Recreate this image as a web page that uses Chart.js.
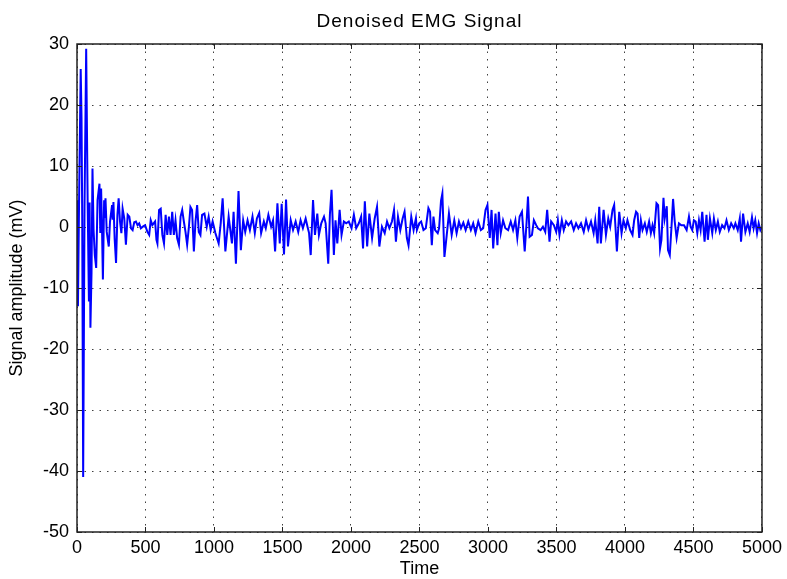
<!DOCTYPE html>
<html>
<head>
<meta charset="utf-8">
<title>Denoised EMG Signal</title>
<script src="https://cdn.jsdelivr.net/npm/chart.js@4.4.1/dist/chart.umd.min.js"></script>
<style>
  html, body { margin: 0; padding: 0; background: #fff; }
  #wrap { width: 787px; height: 579px; }
</style>
</head>
<body>
<div id="wrap"><canvas id="emg"></canvas></div>
<script>
// ---- data (turning points of the trace) ----
const sampleTime = [
  // 0 - 913
  0, 7, 15, 27, 33, 38, 45, 55, 67, 78,
  87, 92, 98, 106, 113, 121, 130, 140, 150, 164,
  170, 176, 183, 189, 198, 203, 208, 217, 232, 241,
  256, 261, 266, 275, 285, 295, 304, 314, 324, 333,
  345, 357, 370, 382, 394, 406, 418, 430, 442, 454,
  466, 483, 497, 514, 527, 538, 550, 570, 580, 587,
  599, 611, 623, 635, 647, 659, 671, 683, 695, 707,
  719, 731, 744, 756, 768, 780, 792, 804, 816, 828,
  840, 853, 865, 877, 889, 901, 913,
  // 930 - 1683
  930, 947, 961, 976, 990, 1010, 1034, 1049, 1063, 1083,
  1107, 1131, 1143, 1160, 1179, 1196, 1213, 1228, 1245, 1262,
  1281, 1298, 1313, 1330, 1344, 1364, 1378, 1397, 1417, 1431,
  1446, 1463, 1480, 1494, 1511, 1526, 1540, 1560, 1577, 1596,
  1615, 1632, 1649, 1669, 1683,
  // 1694 - 2474
  1694, 1706, 1723, 1737, 1754, 1766, 1783, 1803, 1815, 1834,
  1846, 1858, 1875, 1887, 1900, 1917, 1931, 1948, 1965, 1984,
  2004, 2021, 2038, 2057, 2074, 2088, 2101, 2118, 2134, 2154,
  2173, 2190, 2207, 2226, 2246, 2263, 2280, 2299, 2314, 2328,
  2343, 2360, 2377, 2391, 2408, 2420, 2440, 2457, 2474,
  // 2481 - 3292
  2481, 2498, 2512, 2529, 2546, 2565, 2577, 2590, 2602, 2614,
  2633, 2643, 2657, 2667, 2682, 2699, 2715, 2735, 2754, 2771,
  2788, 2803, 2820, 2837, 2856, 2875, 2892, 2909, 2929, 2948,
  2965, 2982, 2996, 3013, 3026, 3038, 3055, 3069, 3079, 3093,
  3110, 3127, 3147, 3166, 3183, 3200, 3214, 3231, 3248, 3268,
  3282, 3292,
  // 3304 - 4081
  3304, 3321, 3335, 3352, 3364, 3384, 3401, 3418, 3432, 3449,
  3461, 3481, 3498, 3510, 3522, 3539, 3553, 3570, 3587, 3607,
  3626, 3643, 3660, 3679, 3699, 3716, 3733, 3752, 3771, 3783,
  3800, 3812, 3824, 3844, 3861, 3878, 3892, 3909, 3921, 3941,
  3958, 3975, 3989, 4006, 4018, 4038, 4055, 4067, 4081,
  // 4092 - 5000
  4092, 4104, 4116, 4128, 4145, 4159, 4176, 4189, 4201, 4213,
  4230, 4242, 4256, 4266, 4281, 4290, 4305, 4314, 4327, 4341,
  4351, 4363, 4377, 4394, 4411, 4431, 4450, 4467, 4479, 4491,
  4503, 4516, 4528, 4540, 4552, 4564, 4581, 4595, 4605, 4620,
  4637, 4649, 4663, 4678, 4692, 4709, 4726, 4741, 4758, 4775,
  4794, 4806, 4823, 4838, 4847, 4862, 4879, 4896, 4910, 4927,
  4939, 4951, 4964, 4976, 4988, 5000
];

const amplitude = [
  // 0 - 913
  4.4, -13, 4, 25.9, 18, 2, -41, 3.3, 29.2, 3.6,
  -12.2, 4, -16.5, -7.5, 9.6, -0.5, -4.6, -6.7, 4.4, 7.1,
  -1, 6.3, -0.8, -8.6, 4.4, 1.5, 4.7, -0.8, -3.2, 0.9,
  3.6, 1.2, 4.1, -2, -5.9, 2, 4.7, 0.9, -1, 3,
  1.4, -2.9, 2, 1.7, -0.2, -0.5, 0.8, 0.9, 0.3, 0.6,
  -0.2, 0.1, 0.3, -0.8, -1.3, 1.1, 0.3, 0.9, -2.1, -2.7,
  2.8, 3.0, -1.3, -2.7, 2, -1.3, 1.7, -1.3, 2.5, -1.3,
  1.1, -1.8, -2.9, 1.7, 2.8, 0.9, -0.8, -2.9, -0.2, 3.3,
  2.8, -4, 0.9, 3.6, -0.8, -1.3, 2,
  // 930 - 1683
  2.2, 0.05, 1.7, -0.5, 0.9, -1.0, -2.7, 0.6, 4.7, -4.0,
  1.7, -2.7, 2.5, -6.0, 5.9, -3.8, 1.1, -0.8, 1.1, -0.5,
  1.7, -1.0, 1.4, 2.3, -1.0, 0.9, -0.2, 2.0, 0.05, 1.1,
  -4.0, 3.9, -2.7, 3.8, -4.5, 4.5, -3.2, 1.1, -0.5, 0.9,
  -0.8, 1.1, -0.2, 1.4, 0,
  // 1694 - 2474
  -1.0, -4.6, 4.4, -1.3, 2.2, -1.3, 0.6, 1.7, 0.6, -6.0,
  2.0, 6.1, -4.6, 1.1, -2.7, 2.8, -1.3, 0.9, 0.6, 0.9,
  -0.2, 2.0, -0.2, 0.6, 1.7, -3.5, 4.2, -3.2, 2.2, -1.8,
  1.4, 3.3, -3.2, 0.05, -1.0, 0.9, -0.2, 0.9, 2.8, -2.4,
  1.7, -0.5, 1.4, 2.5, -1.8, -3.0, 1.7, -0.5, 1.4,
  // 2481 - 3292
  -0.5, 0.6, 0.9, -0.5, -0.2, 3.1, 2.5, -3.0, 1.7, -0.5,
  -1.0, -0.2, 4.3, 5.5, -4.9, -1.3, 2.2, -1.3, 1.1, -1.0,
  0.9, -0.2, 0.7, -0.5, 0.9, -0.5, 0.6, -1.0, 0.9, -0.5,
  -0.2, 2.8, 3.6, -1.8, 2.8, -3.5, 2.2, -3.0, 2.5, -1.0,
  1.1, -0.2, -0.5, 0.9, -0.5, 1.1, -1.8, 1.7, 2.5, -4.0,
  0.9, 5.0,
  // 3304 - 4081
  -1.6, -1.3, 1.1, 0.3, -0.2, -0.5, 0.05, -0.8, 2.8, -2.4,
  0.9, 0.3, -0.8, 1.1, -1.3, 1.1, -0.5, 0.9, 0.3, 0.9,
  -0.5, 0.6, -0.2, 0.6, -0.8, 1.1, -0.4, 0.9, -1.0, 1.1,
  -2.7, 3.3, -2.7, 2.8, -1.3, 1.4, 0.05, 2.8, 3.6, -4.0,
  2.5, -1.0, 1.1, -0.2, 1.1, -0.5, -1.3, 1.1, 2.5,
  // 4092 - 5000
  2.2, -1.8, 1.1, -0.5, 0.6, -0.8, 0.9, -1.0, 0.3, -1.0,
  3.9, 3.6, -3.5, -2.1, 4.8, 1.4, 3.4, -3.8, -4.6, 0.6,
  4.6, 0.9, -1.8, 0.6, 0.3, 0.3, -0.5, 1.7, 0.05, -0.5,
  1.1, 0.9, -1.0, 1.1, -0.5, 2.5, -2.4, 2.0, -2.1, 1.4,
  -1.0, 1.4, -0.5, 0.9, -0.8, 0.3, -0.2, 1.1, -0.5, 0.6,
  -0.2, 0.6, -0.5, 1.4, -2.4, 2.2, -0.8, 0.6, -0.8, 1.6,
  -0.2, 1.1, -1.0, 0.6, -0.5, 0.05
];

const xTickValues = [0, 500, 1000, 1500, 2000, 2500, 3000, 3500, 4000, 4500, 5000];
const yTickValues = [-50, -40, -30, -20, -10, 0, 10, 20, 30];
const titleText = 'Denoised EMG Signal';

// ---- look ----
const FONT = "'Liberation Sans', Arial, Helvetica, sans-serif";
const BLUE = '#0000ff';
const GRID = 'rgba(0,0,0,0.75)';

Chart.defaults.font.family = FONT;
Chart.defaults.font.size = 18;
Chart.defaults.color = '#000';

// box round the axes, inward tick marks and the title centred over the axes (MATLAB style)
const axesBox = {
  id: 'axesBox',
  afterDatasetsDraw(chart) {
    const { ctx, chartArea: a, scales: { x, y } } = chart;
    const tl = 5;
    ctx.save();
    ctx.strokeStyle = '#222';
    ctx.lineWidth = 1;
    ctx.beginPath();
    xTickValues.forEach(v => {
      const px = Math.round(x.getPixelForValue(v)) + 0.5;
      ctx.moveTo(px, a.bottom); ctx.lineTo(px, a.bottom - tl);
      ctx.moveTo(px, a.top); ctx.lineTo(px, a.top + tl);
    });
    yTickValues.forEach(v => {
      const py = Math.round(y.getPixelForValue(v)) + 0.5;
      ctx.moveTo(a.left, py); ctx.lineTo(a.left + tl, py);
      ctx.moveTo(a.right, py); ctx.lineTo(a.right - tl, py);
    });
    ctx.stroke();
    ctx.lineWidth = 1.5;
    ctx.strokeRect(a.left, a.top, a.right - a.left, a.bottom - a.top);

    ctx.font = '19px ' + FONT;
    if ('letterSpacing' in ctx) ctx.letterSpacing = '1px';
    ctx.fillStyle = '#000';
    ctx.textAlign = 'center';
    ctx.textBaseline = 'middle';
    ctx.fillText(titleText, (a.left + a.right) / 2, 22);
    ctx.restore();
  }
};

const points = sampleTime.map((t, i) => ({ x: t, y: amplitude[i] }));

new Chart(document.getElementById('emg'), {
  type: 'line',
  data: {
    datasets: [{
      data: points,
      borderColor: BLUE,
      borderWidth: 2,
      pointRadius: 0,
      tension: 0,
      fill: false
    }]
  },
  options: {
    responsive: true,
    maintainAspectRatio: false,
    animation: false,
    layout: { padding: { top: 44, right: 22, bottom: 0, left: 0 } },
    plugins: {
      legend: { display: false },
      tooltip: { enabled: false },
      title: { display: false }
    },
    scales: {
      x: {
        type: 'linear',
        min: 0, max: 5000,
        afterBuildTicks: s => { s.ticks = xTickValues.map(v => ({ value: v })); },
        afterFit: s => { s.height = 47; },
        grid: { color: GRID, lineWidth: 1, drawTicks: false },
        border: { display: false, dash: [1.5, 6] },
        ticks: { padding: 5, maxRotation: 0, autoSkip: false, color: '#000', callback: v => String(v) },
        title: {
          display: true, text: 'Time', color: '#000',
          font: { size: 18, lineHeight: 1.1 },
          padding: { top: 0, bottom: 0 }
        }
      },
      y: {
        min: -50, max: 30,
        afterBuildTicks: s => { s.ticks = yTickValues.map(v => ({ value: v })); },
        afterFit: s => { s.width = 77; },
        grid: { color: GRID, lineWidth: 1, drawTicks: false },
        border: { display: false, dash: [1.5, 6] },
        ticks: { padding: 8, color: '#000', callback: v => String(v) },
        title: {
          display: true, text: 'Signal amplitude (mV)', color: '#000',
          font: { size: 18 },
          padding: { top: 6, bottom: 0 }
        }
      }
    }
  },
  plugins: [axesBox]
});
</script>
</body>
</html>
